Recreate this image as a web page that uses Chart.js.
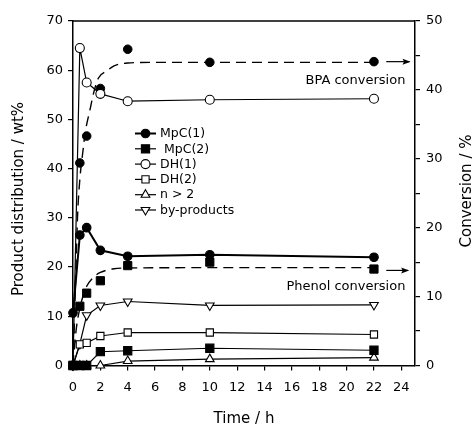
<!DOCTYPE html>
<html><head><meta charset="utf-8">
<script src="https://cdn.jsdelivr.net/npm/chart.js@4"></script>
<style>html,body{margin:0;padding:0;background:#fff;}canvas{display:block;}</style>
</head><body>
<canvas id="c" width="476" height="426"></canvas>
<script>
// ---- data (left axis: product distribution, wt%) ----
const times = [0, 0.5, 1, 2, 4, 10, 22];
const mpc1 = [10.7, 26.5, 28.0, 23.4, 22.2, 22.5, 22.0];
const mpc2 = [0, 0, 0, 2.8, 3.0, 3.5, 3.1];
const dh1 = [0, 64.5, 57.5, 55.2, 53.7, 54.0, 54.2];
const dh2 = [0, 4.3, 4.6, 6.0, 6.7, 6.7, 6.3];
const nGt2 = [0, 0, 0, 0, 0.9, 1.3, 1.6];
const byProducts = [0, 4.4, 10.2, 12.2, 13.0, 12.2, 12.3];
// ---- data (right axis: conversion, %) ----
const convTimes = [0, 0.5, 1, 2, 4, 10, 22];
const bpaConv = [0, 29.4, 33.3, 40.2, 45.9, 44.0, 44.1];
const phenolConv = [0, 8.6, 10.5, 12.3, 14.5, 15.0, 14.0];
// dashed trend curves
const bpaFitTimes = [0, 0.1, 0.2, 0.34, 0.5, 0.75, 0.88, 1.0, 1.24, 1.5, 1.85, 2.5, 3.0, 4.0, 6.0, 10, 22];
const bpaFit = [0, 6, 13, 22, 27, 31.5, 33.7, 35, 37.1, 39.5, 41.7, 42.8, 43.5, 43.9, 44.0, 44.0, 44.0];
const phenolFitTimes = [0, 0.1, 0.25, 0.5, 0.75, 1.0, 1.5, 2.0, 3.0, 4.0, 10, 22];
const phenolFit = [0, 2.5, 5.5, 8.3, 10.2, 11.5, 12.8, 13.5, 14.05, 14.15, 14.2, 14.2];
// arrows toward the conversion axis
const bpaArrowX = [22.9, 24.6];
const bpaArrowY = [44.1, 44.1];
const phenolArrowX = [22.9, 24.5];
const phenolArrowY = [13.8, 13.8];
// ticks
const xTicks = [0, 2, 4, 6, 8, 10, 12, 14, 16, 18, 20, 22, 24];
const yTicks = [0, 10, 20, 30, 40, 50, 60, 70];
const y2Ticks = [0, 5, 10, 15, 20, 25, 30, 35, 40, 45, 50];
const y2Labels = [0, 10, 20, 30, 40, 50];
const legendLabels = ['MpC(1)', ' MpC(2)', 'DH(1)', 'DH(2)', 'n > 2', 'by-products'];
const titleX = 'Time / h';
const titleY = 'Product distribution / wt%';
const titleY2 = 'Conversion / %';
const noteBPA = 'BPA conversion';
const notePhenol = 'Phenol conversion';

const FONT = "'DejaVu Sans', sans-serif";
Chart.defaults.font.family = FONT;
Chart.defaults.color = '#000';

const pts = (xs, ys) => xs.map((x, i) => ({x: x, y: ys[i]}));

function series(label, ys, style, r, fill, extra) {
  return Object.assign({
    label: label, data: pts(times, ys), yAxisID: 'y',
    borderColor: '#000', borderWidth: 1.2, backgroundColor: fill,
    pointStyle: style, pointRadius: r, pointHoverRadius: r,
    pointBackgroundColor: fill, pointBorderColor: '#000', pointBorderWidth: 1.1,
    tension: 0, clip: false
  }, extra || {});
}

const datasets = [
  series(legendLabels[0], mpc1, 'circle', 4.3, '#000', {borderWidth: 2}),
  series(legendLabels[1], mpc2, 'rect', 5.8, '#000'),
  series(legendLabels[2], dh1, 'circle', 4.5, '#fff'),
  series(legendLabels[3], dh2, 'rect', 5.1, '#fff'),
  series(legendLabels[4], nGt2, 'triangle', 5, '#fff'),
  series(legendLabels[5], byProducts, 'triangle', 5, '#fff', {pointRotation: 180}),
  {label: 'bpaConv', data: pts(convTimes, bpaConv), yAxisID: 'y2', showLine: false,
   pointStyle: 'circle', pointRadius: 4.3, pointBackgroundColor: '#000', pointBorderColor: '#000', clip: false},
  {label: 'phenolConv', data: pts(convTimes, phenolConv), yAxisID: 'y2', showLine: false,
   pointStyle: 'rect', pointRadius: 5.8, pointBackgroundColor: '#000', pointBorderColor: '#000', clip: false},
  {label: 'bpaFit', data: pts(bpaFitTimes, bpaFit), yAxisID: 'y2', borderColor: '#000', borderWidth: 1.4,
   borderDash: [10, 6], pointRadius: 0, cubicInterpolationMode: 'monotone', clip: false},
  {label: 'phenolFit', data: pts(phenolFitTimes, phenolFit), yAxisID: 'y2', borderColor: '#000', borderWidth: 1.4,
   borderDash: [10, 6], pointRadius: 0, cubicInterpolationMode: 'monotone', clip: false},
  {label: 'bpaArrow', data: pts(bpaArrowX, bpaArrowY), yAxisID: 'y2', borderColor: '#000', borderWidth: 1.2,
   pointRadius: 0, clip: false, arrow: true},
  {label: 'phenolArrow', data: pts(phenolArrowX, phenolArrowY), yAxisID: 'y2', borderColor: '#000', borderWidth: 1.2,
   pointRadius: 0, clip: false, arrow: true}
];

function drawMarker(ctx, style, r, rot, fill, x, y) {
  ctx.save();
  ctx.fillStyle = fill; ctx.strokeStyle = '#000'; ctx.lineWidth = 1.1;
  if (Chart.helpers && Chart.helpers.drawPoint) {
    Chart.helpers.drawPoint(ctx, {pointStyle: style, radius: r, rotation: rot || 0, borderWidth: 1.1}, x, y);
  } else {
    ctx.beginPath(); ctx.arc(x, y, r, 0, Math.PI * 2); ctx.fill(); ctx.stroke();
  }
  ctx.restore();
}

const decor = {
  id: 'decor',
  afterDatasetsDraw(chart) {
    const ctx = chart.ctx, a = chart.chartArea, sx = chart.scales.x, sy2 = chart.scales.y2;
    ctx.save();
    // top frame line
    ctx.strokeStyle = '#000'; ctx.lineWidth = 1.5; ctx.setLineDash([]);
    ctx.beginPath(); ctx.moveTo(a.left, a.top); ctx.lineTo(a.right, a.top); ctx.stroke();
    // arrowheads
    chart.data.datasets.forEach((ds, i) => {
      if (!ds.arrow) return;
      const m = chart.getDatasetMeta(i).data;
      const p = m[m.length - 1], q = m[m.length - 2];
      const ang = Math.atan2(p.y - q.y, p.x - q.x);
      ctx.save(); ctx.translate(p.x, p.y); ctx.rotate(ang);
      ctx.fillStyle = '#000';
      ctx.beginPath(); ctx.moveTo(1, 0); ctx.lineTo(-7, -3); ctx.lineTo(-5.5, 0); ctx.lineTo(-7, 3); ctx.closePath(); ctx.fill();
      ctx.restore();
    });
    // annotations
    ctx.fillStyle = '#000';
    ctx.font = '13px ' + FONT; ctx.textAlign = 'right'; ctx.textBaseline = 'middle';
    ctx.fillText(noteBPA, sx.getPixelForValue(24.3), sy2.getPixelForValue(41.4));
    ctx.fillText(notePhenol, sx.getPixelForValue(24.3), sy2.getPixelForValue(11.5));
    // legend
    ctx.font = '12.5px ' + FONT; ctx.textAlign = 'left';
    for (let i = 0; i < 6; i++) {
      const ds = chart.data.datasets[i];
      const y = 133.5 + i * 15.3;
      ctx.strokeStyle = '#000'; ctx.lineWidth = ds.borderWidth;
      ctx.beginPath(); ctx.moveTo(135, y); ctx.lineTo(156, y); ctx.stroke();
      drawMarker(ctx, ds.pointStyle, ds.pointRadius, ds.pointRotation, ds.pointBackgroundColor, 145.5, y);
      ctx.fillStyle = '#000';
      ctx.fillText(ds.label, 160, y + 0.5);
    }
    // axis titles
    ctx.font = '15px ' + FONT; ctx.textAlign = 'center'; ctx.textBaseline = 'middle';
    ctx.fillText(titleX, (a.left + a.right) / 2, 419);
    ctx.save(); ctx.translate(19.5, 199); ctx.rotate(-Math.PI / 2); ctx.fillText(titleY, 0, 0); ctx.restore();
    ctx.save(); ctx.translate(467, 191); ctx.rotate(-Math.PI / 2); ctx.fillText(titleY2, 0, 0); ctx.restore();
    ctx.restore();
  }
};

const gridOpts = {drawOnChartArea: false, drawTicks: true, tickLength: 5, color: '#000', lineWidth: 1.2};
const borderOpts = {display: true, color: '#000', width: 1.5};

new Chart(document.getElementById('c'), {
  type: 'line',
  data: {datasets: datasets},
  options: {
    responsive: false, animation: false, devicePixelRatio: 1,
    layout: {padding: {top: 21, left: 0, right: 0, bottom: 0}},
    plugins: {legend: {display: false}, tooltip: {enabled: false}},
    scales: {
      x: {type: 'linear', min: 0, max: 25,
          afterBuildTicks: s => { s.ticks = xTicks.map(v => ({value: v})); },
          afterFit: s => { s.height = 60.5; },
          ticks: {font: {size: 13}, color: '#000', padding: 9, maxRotation: 0, autoSkip: false},
          grid: gridOpts, border: borderOpts},
      y: {type: 'linear', position: 'left', min: 0, max: 70,
          afterBuildTicks: s => { s.ticks = yTicks.map(v => ({value: v})); },
          afterFit: s => { s.width = 73; },
          ticks: {font: {size: 13}, color: '#000', padding: 5, autoSkip: false},
          grid: gridOpts, border: borderOpts},
      y2: {type: 'linear', position: 'right', min: 0, max: 50,
          afterBuildTicks: s => { s.ticks = y2Ticks.map(v => ({value: v})); },
          afterFit: s => { s.width = 61; },
          ticks: {font: {size: 13}, color: '#000', padding: 6, autoSkip: false,
                  callback: v => (y2Labels.indexOf(v) >= 0 ? String(v) : '')},
          grid: gridOpts, border: borderOpts}
    }
  },
  plugins: [decor]
});
</script>
</body></html>
